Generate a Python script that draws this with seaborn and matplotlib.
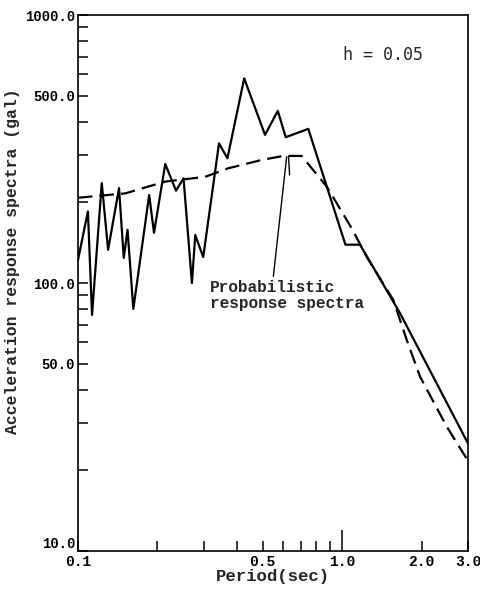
import matplotlib
matplotlib.use("Agg")
import matplotlib.pyplot as plt
import seaborn as sns
import pandas as pd
from matplotlib.ticker import FixedLocator, FixedFormatter, NullFormatter

# Observed acceleration response spectrum (solid)
period_obs = [0.100, 0.109, 0.113, 0.123, 0.130, 0.143, 0.149, 0.154, 0.162, 0.186,
              0.194, 0.214, 0.235, 0.251, 0.270, 0.278, 0.298, 0.342, 0.368, 0.426,
              0.511, 0.571, 0.612, 0.745, 1.03, 1.17, 1.66, 3.0]
acc_obs = [122, 185, 76, 236, 133, 226, 124, 158, 80, 213,
           154, 278, 221, 246, 100, 151, 125, 332, 292, 580,
           357, 439, 350, 376, 139, 139, 77, 25.2]

# Probabilistic response spectrum (dashed)
period_prob = [0.100, 0.151, 0.214, 0.303, 0.371, 0.497, 0.600, 0.703, 0.875,
               1.088, 1.241, 1.564, 1.758, 1.975, 2.493, 3.0]
acc_prob = [208, 216, 239, 249, 268, 288, 298, 298, 229,
            160, 125, 86.4, 61.3, 44.7, 29.1, 21.7]

x_ticks = [0.1, 0.5, 1.0, 2.0, 3.0]
x_ticklabels = ["0.1", "0.5", "1.0", "2.0", "3.0"]
x_minor = [0.2, 0.3, 0.4, 0.6, 0.7, 0.8, 0.9]
y_ticks = [10, 50, 100, 500, 1000]
y_ticklabels = ["10.0", "50.0", "100.0", "500.0", "1000.0"]
y_minor = [20, 30, 40, 60, 70, 80, 90, 200, 300, 400, 600, 700, 800, 900]

sns.set_style("white")
plt.rcParams["font.family"] = ["Liberation Mono", "DejaVu Sans Mono"]
plt.rcParams["font.weight"] = "bold"

fig = plt.figure(figsize=(4.81, 5.93), dpi=100)
ax = fig.add_axes([0.1622, 0.0708, 0.8108, 0.9039])

df_obs = pd.DataFrame({"period": period_obs, "acc": acc_obs})
df_prob = pd.DataFrame({"period": period_prob, "acc": acc_prob})

sns.lineplot(data=df_obs, x="period", y="acc", ax=ax, color="black", lw=1.6,
             estimator=None, sort=False)
sns.lineplot(data=df_prob, x="period", y="acc", ax=ax, color="black", lw=1.6,
             estimator=None, sort=False, linestyle=(0, (6.5, 3.2)))

ax.set_xscale("log")
ax.set_yscale("log")
ax.set_xlim(0.1, 3.0)
ax.set_ylim(10, 1000)

ax.xaxis.set_major_locator(FixedLocator(x_ticks))
ax.xaxis.set_major_formatter(FixedFormatter(x_ticklabels))
ax.xaxis.set_minor_locator(FixedLocator(x_minor))
ax.xaxis.set_minor_formatter(NullFormatter())
ax.yaxis.set_major_locator(FixedLocator(y_ticks))
ax.yaxis.set_major_formatter(FixedFormatter(y_ticklabels))
ax.yaxis.set_minor_locator(FixedLocator(y_minor))
ax.yaxis.set_minor_formatter(NullFormatter())

ax.tick_params(which="both", direction="in", length=7.5, width=1.1,
               bottom=True, left=True, top=False, right=False, colors="black")
ax.tick_params(axis="x", which="major", pad=3, labelsize=10.5)
ax.tick_params(axis="y", which="major", pad=2, labelsize=10)

for sp in ax.spines.values():
    sp.set_linewidth(1.2)
    sp.set_color("black")

ax.set_xlabel("Period(sec)", fontsize=12.5, fontweight="bold", labelpad=0)
ax.set_ylabel("Acceleration response spectra (gal)", fontsize=11.8, fontweight="bold")
ax.yaxis.set_label_coords(-0.148, 0.54)

ax.text(0.68, 0.925, "h = 0.05", transform=ax.transAxes, fontsize=12,
        fontweight="normal", family=["DejaVu Sans Mono"], ha="left", va="center")

ax.annotate("Probabilistic\nresponse spectra", xy=(0.617, 296), xytext=(0.316, 103),
            fontsize=11.6, fontweight="bold", ha="left", va="top",
            linespacing=1.15,
            arrowprops=dict(arrowstyle="-", color="black", lw=1.0,
                            shrinkA=0, shrinkB=0, relpos=(0.41, 1.03)))
ax.annotate("", xy=(0.627, 296), xytext=(0.633, 253),
            arrowprops=dict(arrowstyle="-", color="black", lw=1.0,
                            shrinkA=0, shrinkB=0))

fig.canvas.draw()
ticks = ax.xaxis.get_major_ticks()
ticks[2].tick1line.set_markersize(15)
ylabs = ax.get_yticklabels()
ylabs[0].set_verticalalignment("bottom")

fig.savefig("out.png", dpi=100)
